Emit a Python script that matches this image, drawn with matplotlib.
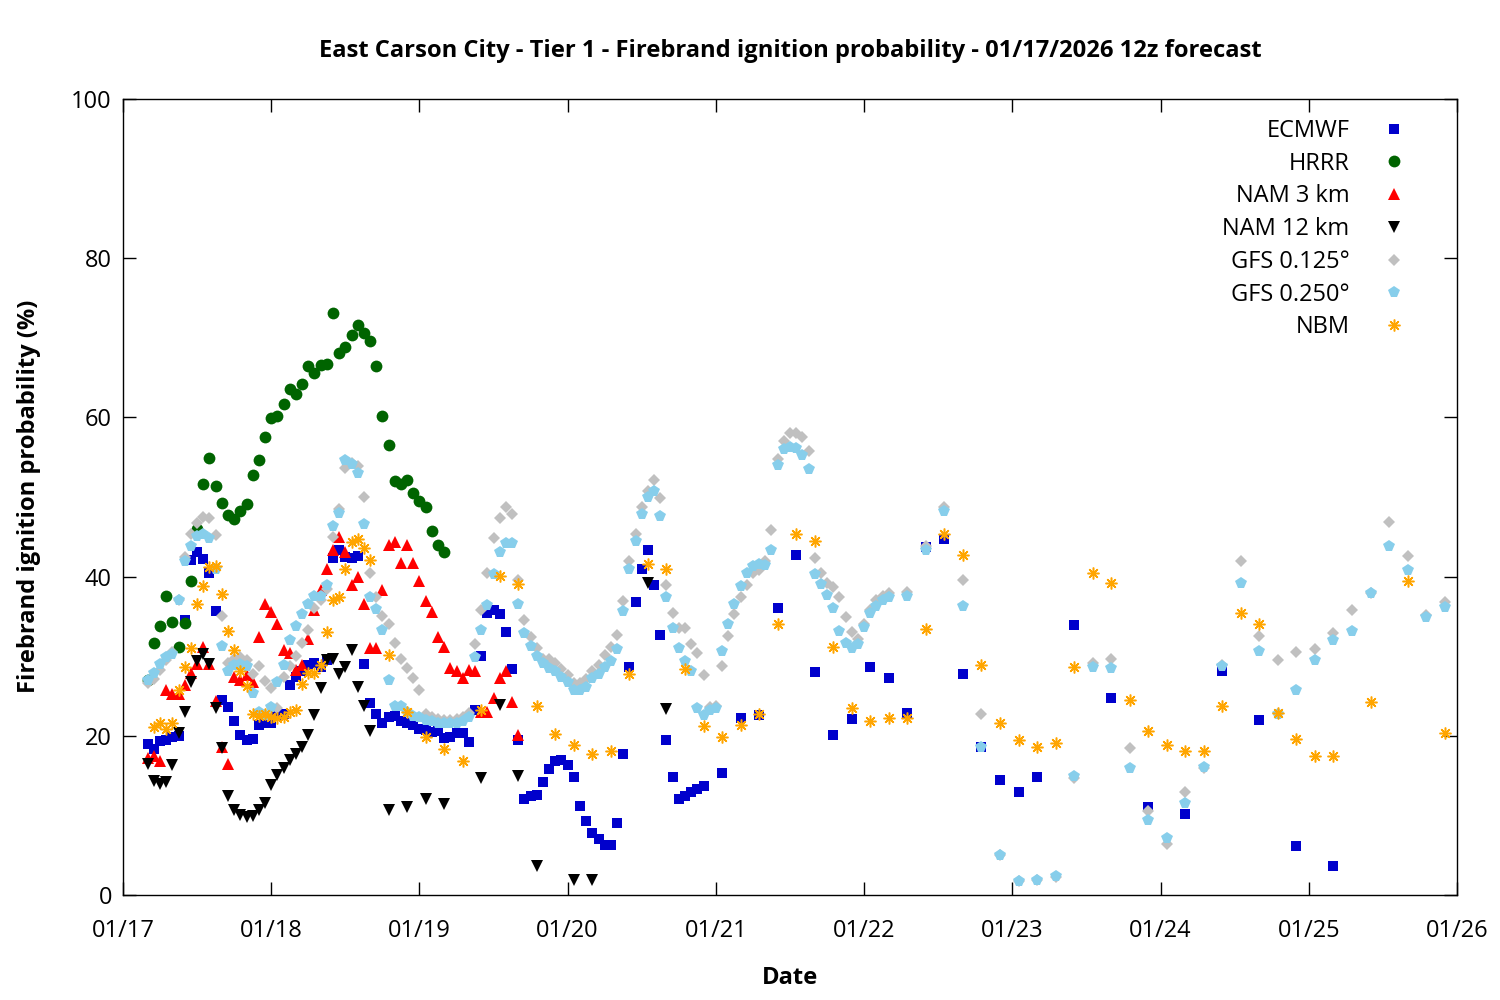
import matplotlib
matplotlib.use("Agg")
import matplotlib.pyplot as plt

# Hours after 01/17 00 local, and ignition probability (%)
ecmwf_hours = list(range(4, 95)) + list(range(97, 149, 3)) + list(range(154, 197, 6))
ecmwf_vals = [
    19.0, 18.4, 19.3, 19.5, 19.8, 20.0, 34.6, 42.1, 43.1, 42.2,
    40.4, 35.7, 24.5, 23.6, 21.8, 20.1, 19.5, 19.6, 21.4, 21.6,
    21.6, 22.5, 22.8, 26.4, 27.4, 28.1, 28.9, 29.1, 28.7, 29.5,
    42.3, 43.3, 42.4, 42.3, 42.6, 29.0, 24.1, 22.7, 21.6, 22.4,
    22.5, 21.9, 21.6, 21.4, 20.9, 20.7, 20.5, 20.6, 19.7, 19.8,
    20.4, 20.3, 19.2, 23.2, 30.0, 35.4, 35.8, 35.3, 33.1, 28.4,
    19.5, 12.1, 12.4, 12.6, 14.2, 15.8, 16.8, 16.9, 16.3, 14.8,
    11.2, 9.3, 7.8, 7.0, 6.3, 6.3, 9.0, 17.7, 28.7, 36.8,
    40.9, 43.3, 39.0, 32.7, 19.5, 14.8, 12.0, 12.4, 12.9, 13.3,
    13.7,
    15.3, 22.2, 22.6, 36.1, 42.7, 28.0, 20.1, 22.1, 28.6, 27.3,
    22.9, 43.7, 44.7, 27.8, 18.6, 14.5, 13.0, 14.8,
    33.9, 24.7, 11.0, 10.2, 28.1, 22.0, 6.2, 3.6,
]

hrrr_hours = list(range(4, 53))
hrrr_vals = [
    27.0, 31.7, 33.8, 37.6, 34.3, 31.2, 34.2, 39.5, 46.0, 51.6,
    54.9, 51.4, 49.3, 47.7, 47.2, 48.2, 49.1, 52.8, 54.6, 57.5,
    59.9, 60.2, 61.7, 63.6, 63.0, 64.2, 66.4, 65.6, 66.6, 66.7,
    73.1, 68.1, 68.9, 70.4, 71.6, 70.6, 69.6, 66.4, 60.2, 56.5,
    52.0, 51.6, 52.1, 50.5, 49.5, 48.7, 45.7, 44.0, 43.1,
]

nam3_hours = list(range(4, 65))
nam3_vals = [
    17.2, 17.4, 16.8, 25.7, 25.3, 25.3, 26.4, 27.9, 29.0, 31.1,
    29.0, 24.4, 18.6, 16.5, 27.4, 27.0, 27.7, 26.8, 32.4, 36.6,
    35.6, 34.1, 30.8, 30.4, 28.3, 28.9, 32.1, 35.8, 38.3, 41.0,
    43.4, 45.0, 43.1, 38.9, 40.0, 36.6, 31.0, 31.0, 38.3, 44.0,
    44.4, 41.7, 44.0, 41.7, 39.5, 36.9, 35.5, 32.4, 31.2, 28.5,
    28.2, 27.2, 28.3, 28.2, 23.0, 23.0, 24.7, 27.3, 28.2, 24.3,
    20.1,
]

nam12_hours = list(range(4, 41)) + [43, 46, 49, 52, 58, 61, 64, 67, 73, 76, 85, 88]
nam12_vals = [
    16.4, 14.3, 13.9, 14.2, 16.3, 20.3, 23.0, 26.7, 29.4, 30.3,
    29.0, 23.5, 18.5, 12.5, 10.7, 10.1, 9.8, 9.9, 10.7, 11.5,
    13.8, 15.1, 16.0, 17.0, 17.7, 18.6, 20.1, 22.6, 26.0, 29.5,
    29.7, 27.8, 28.7, 30.8, 26.1, 23.7, 20.6,
    10.7, 11.0, 12.0, 11.4, 14.7, 23.9, 15.0, 3.6, 1.9, 1.9, 39.2, 23.4,
]

gfs_hours = list(range(4, 125)) + list(range(127, 215, 3))
gfs125_vals = [
    26.6, 27.1, 28.3, 29.5, 30.5, 37.0, 42.4, 45.3, 46.7, 47.5,
    47.3, 45.2, 35.1, 29.1, 29.6, 29.9, 29.5, 27.8, 28.8, 26.9,
    26.0, 23.5, 27.4, 28.8, 30.0, 31.7, 33.3, 36.1, 37.0, 38.4,
    45.0, 48.5, 53.6, 54.3, 53.9, 50.0, 40.4, 37.5, 35.0, 34.0,
    31.7, 29.6, 28.5, 27.2, 25.8, 22.8, 22.4, 22.1, 22.0, 22.0,
    22.1, 22.4, 22.9, 31.5, 35.8, 40.4, 44.9, 47.4, 48.7, 47.9,
    39.6, 34.6, 32.4, 31.0, 29.7, 29.6, 29.1, 28.4, 27.6, 26.6,
    26.6, 27.1, 28.1, 28.9, 30.2, 31.2, 32.7, 36.9, 41.9, 45.4,
    48.8, 50.8, 52.1, 49.9, 38.9, 35.4, 33.6, 33.5, 31.5, 30.4,
    27.6, 23.6, 23.8, 28.8, 32.5, 35.3, 37.4, 38.9, 40.4, 40.8,
    41.9, 45.9, 54.8, 57.0, 58.1, 58.0, 57.5, 55.8, 42.3, 40.4,
    39.2, 38.7, 37.4, 34.9, 33.0, 32.2, 34.0, 35.8, 37.1, 37.6,
    37.9,
    38.1, 43.8, 48.8, 39.6, 22.7, 5.0, 1.8, 1.9, 2.3, 14.7,
    29.1, 29.6, 18.5, 10.6, 6.4, 12.9, 16.0, 28.9, 42.0, 32.5,
    29.5, 30.5, 30.9, 32.9, 35.8, 38.0, 46.9, 42.6, 35.2, 36.8,
]
gfs250_vals = [
    27.0, 27.9, 29.0, 29.9, 30.3, 37.1, 41.9, 43.9, 45.1, 45.4,
    44.8, 41.0, 31.3, 28.1, 28.9, 29.0, 28.8, 25.4, 23.0, 22.6,
    23.6, 26.7, 28.9, 32.0, 33.8, 35.3, 36.6, 37.6, 37.6, 38.9,
    46.3, 48.0, 54.6, 54.1, 53.0, 46.6, 37.4, 35.9, 33.3, 27.0,
    23.7, 23.7, 23.0, 22.5, 22.4, 22.0, 21.8, 21.6, 21.6, 21.6,
    21.6, 21.9, 22.4, 29.9, 33.3, 36.4, 40.3, 43.1, 44.2, 44.2,
    36.6, 32.9, 31.3, 30.0, 29.2, 28.5, 28.1, 27.4, 26.7, 25.8,
    25.8, 26.1, 27.2, 27.8, 28.7, 29.4, 30.9, 35.7, 41.0, 44.5,
    47.9, 50.0, 50.8, 47.6, 37.4, 33.5, 31.0, 29.4, 28.2, 23.5,
    22.6, 23.2, 23.5, 30.7, 34.1, 36.6, 38.8, 40.4, 41.3, 41.6,
    41.5, 43.3, 54.0, 56.0, 56.3, 56.2, 55.3, 53.5, 40.3, 39.1,
    37.7, 36.0, 33.2, 31.6, 31.0, 31.5, 33.7, 35.4, 36.3, 37.1,
    37.4,
    37.6, 43.3, 48.2, 36.3, 18.6, 5.0, 1.8, 1.9, 2.4, 14.9,
    28.6, 28.5, 15.9, 9.4, 7.1, 11.5, 16.1, 28.8, 39.2, 30.7,
    22.8, 25.8, 29.5, 32.0, 33.2, 37.9, 43.8, 40.8, 34.9, 36.2,
]

nbm_hours = list(range(5, 41)) + list(range(43, 197, 3)) + [202, 208, 214]
nbm_vals = [
    21.1, 21.6, 20.9, 21.6, 25.8, 28.6, 31.0, 36.5, 38.8, 41.2,
    41.3, 37.8, 33.2, 30.8, 28.1, 26.3, 22.8, 22.5, 22.8, 22.3,
    22.2, 22.3, 23.0, 23.2, 26.5, 27.9, 27.9, 28.9, 33.0, 37.0,
    37.4, 40.9, 44.3, 44.7, 43.6, 42.1,
    30.2, 23.0, 19.9, 18.3, 16.8, 23.2, 40.1, 39.1, 23.7, 20.2,
    18.8, 17.7, 18.1, 27.8, 41.6, 40.9, 28.4, 21.2, 19.8, 21.4,
    22.7, 34.0, 45.4, 44.5, 31.1, 23.5, 21.9, 22.2, 22.2, 33.4,
    45.4, 42.7, 28.9, 21.6, 19.5, 18.6, 19.1, 28.6, 40.5, 39.2,
    24.5, 20.6, 18.9, 18.1, 18.1, 23.7, 35.4, 34.0, 22.9, 19.6,
    17.5, 17.5,
    24.3, 39.4, 20.4,
]

day_labels = ["01/17", "01/18", "01/19", "01/20", "01/21",
              "01/22", "01/23", "01/24", "01/25", "01/26"]

plt.rcParams['font.family'] = ['Open Sans', 'DejaVu Sans']

fig = plt.figure(figsize=(15, 10), dpi=100)
ax = fig.add_axes([123 / 1500, 105 / 1000, 1334 / 1500, 796 / 1000])

series = [
    ("ECMWF", ecmwf_hours, ecmwf_vals, dict(marker='s', color='#0000CC', ms=6.8)),
    ("HRRR", hrrr_hours, hrrr_vals, dict(marker='o', color='#006400', ms=8.5)),
    ("NAM 3 km", nam3_hours, nam3_vals, dict(marker='^', color='#FF0000', ms=8.5)),
    ("NAM 12 km", nam12_hours, nam12_vals, dict(marker='v', color='black', ms=8.5)),
    ("GFS 0.125°", gfs_hours, gfs125_vals, dict(marker='D', color='#C0C0C0', ms=6.3)),
    ("GFS 0.250°", gfs_hours, gfs250_vals, dict(marker='p', color='#87CEEB', ms=8.5)),
]
for label, hrs, vals, st in series:
    ax.plot(hrs, vals, linestyle='none', marker=st['marker'], color=st['color'],
            markersize=st['ms'], markeredgewidth=0, label=label)
ax.plot(nbm_hours, nbm_vals, linestyle='none', marker=(8, 2, 0), color='#FFA500',
        markersize=8.5, markeredgewidth=1.1, label="NBM")

ax.set_xlim(0, 216)
ax.set_ylim(0, 100)
ax.set_xticks(range(0, 217, 24))
ax.set_xticklabels(day_labels)
ax.set_yticks(range(0, 101, 20))
ax.tick_params(direction='in', length=9.5, width=1, top=True, right=True,
               labelsize=17)
ax.tick_params(axis='x', pad=17)
ax.tick_params(axis='y', pad=8)
for sp in ax.spines.values():
    sp.set_linewidth(1)

fig.text(790 / 1500, 1 - 51 / 1000,
         "East Carson City - Tier 1 - Firebrand ignition probability - 01/17/2026 12z forecast",
         ha='center', va='center', fontsize=17.1, fontweight='bold')
fig.text(29 / 1500, 1 - 496 / 1000, "Firebrand ignition probability (%)",
         rotation=90, ha='center', va='center', fontsize=17.1, fontweight='bold')
fig.text(790 / 1500, 1 - 978 / 1000, "Date",
         ha='center', va='center', fontsize=17.1, fontweight='bold')

ax.legend(loc='upper right', bbox_to_anchor=(1406 / 1500, 1 - 119 / 1000),
          bbox_transform=fig.transFigure, frameon=False, markerfirst=False,
          fontsize=17, handlelength=1.0, handletextpad=1.4, labelspacing=0.37,
          borderpad=0, borderaxespad=0, numpoints=1)

fig.savefig("out.png", dpi=100)
